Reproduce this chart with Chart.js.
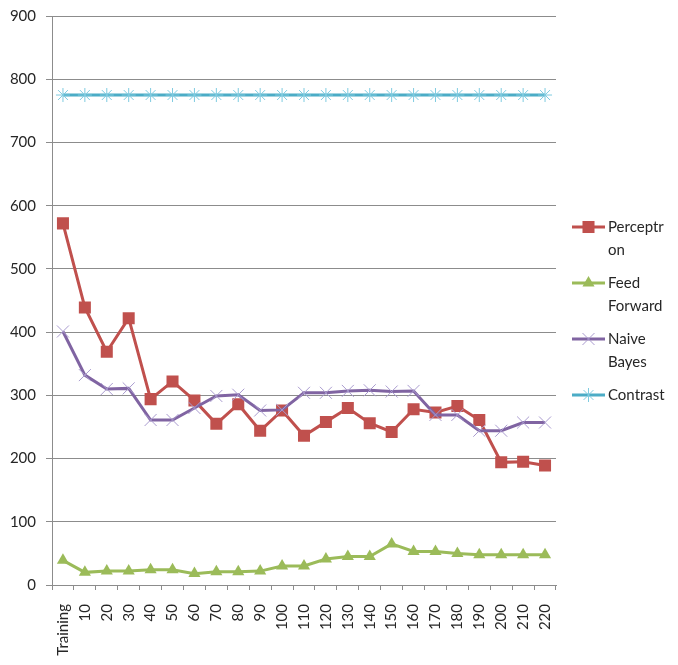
<!DOCTYPE html>
<html>
<head>
<meta charset="utf-8">
<script src="https://cdn.jsdelivr.net/npm/chart.js@4/dist/chart.umd.min.js"></script>
<style>
  html, body { margin: 0; padding: 0; background: #ffffff; }
  #wrap { width: 678px; height: 665px; }
</style>
</head>
<body>
<div id="wrap"><canvas id="c" width="678" height="665"></canvas></div>
<script>
// Categories along the x axis
const categories = ['Training', '10', '20', '30', '40', '50', '60', '70', '80', '90', '100',
  '110', '120', '130', '140', '150', '160', '170', '180', '190', '200', '210', '220'];

// Series values
const perceptron = [572, 439, 369, 422, 294, 322, 292, 255, 286, 244, 276, 236, 258, 280, 256, 242, 278, 273, 283, 261, 194, 195, 189];
const feedForward = [39, 20, 22, 22, 24, 24, 18, 21, 21, 22, 30, 30, 41, 45, 45, 65, 53, 53, 50, 48, 48, 48, 48];
const naiveBayes = [401, 332, 310, 311, 261, 261, 280, 299, 301, 276, 277, 304, 304, 307, 308, 306, 307, 269, 269, 244, 244, 257, 257];
const contrast = [775, 775, 775, 775, 775, 775, 775, 775, 775, 775, 775, 775, 775, 775, 775, 775, 775, 775, 775, 775, 775, 775, 775];

// Value axis range
const yMin = 0, yMax = 900, yStep = 100;

const FONT = 'Lato, "Liberation Sans", sans-serif';
const TEXT = '#262626';
const GRID = '#8c8c8c';

// Marker glyph used in the side legend
function drawMarker(ctx, style, r, x, y) {
  ctx.save();
  if (style === 'rect') {
    const s = Math.SQRT1_2 * r;
    ctx.fillRect(x - s, y - s, 2 * s, 2 * s);
  } else if (style === 'triangle') {
    ctx.beginPath();
    ctx.moveTo(x, y - r);
    ctx.lineTo(x + r * Math.sin(2 * Math.PI / 3), y - r * Math.cos(2 * Math.PI / 3));
    ctx.lineTo(x + r * Math.sin(4 * Math.PI / 3), y - r * Math.cos(4 * Math.PI / 3));
    ctx.closePath();
    ctx.fill();
  } else {
    const o = Math.SQRT1_2 * r;
    ctx.beginPath();
    ctx.moveTo(x - o, y - o); ctx.lineTo(x + o, y + o);
    ctx.moveTo(x - o, y + o); ctx.lineTo(x + o, y - o);
    if (style === 'star') { ctx.moveTo(x, y - r); ctx.lineTo(x, y + r); }
    ctx.stroke();
  }
  ctx.restore();
}

// Legend drawn in the right-hand margin, wrapping long names
const sideLegend = {
  id: 'sideLegend',
  afterDraw(chart) {
    const ctx = chart.ctx;
    const rowsY = [227, 283, 339, 395];
    const lineX0 = 572, lineX1 = 605, textX = 608, maxW = 60, lh = 23;
    ctx.save();
    ctx.font = '15px ' + FONT;
    ctx.textBaseline = 'middle';
    ctx.textAlign = 'left';
    chart.data.datasets.forEach((ds, i) => {
      const y = rowsY[i];
      ctx.strokeStyle = ds.borderColor;
      ctx.lineWidth = ds.borderWidth;
      ctx.beginPath();
      ctx.moveTo(lineX0, y);
      ctx.lineTo(lineX1, y);
      ctx.stroke();
      ctx.fillStyle = ds.pointBackgroundColor;
      ctx.strokeStyle = ds.pointBorderColor;
      ctx.lineWidth = ds.pointBorderWidth;
      drawMarker(ctx, ds.pointStyle, ds.pointRadius, (lineX0 + lineX1) / 2, y);
      // wrap the name
      const lines = [];
      let cur = '';
      ds.label.split(' ').forEach(word => {
        const trial = cur ? cur + ' ' + word : word;
        if (ctx.measureText(trial).width <= maxW) { cur = trial; return; }
        if (cur) { lines.push(cur); cur = ''; }
        let piece = '';
        for (const ch of word) {
          if (ctx.measureText(piece + ch).width > maxW && piece) { lines.push(piece); piece = ch; }
          else piece += ch;
        }
        cur = piece;
      });
      if (cur) lines.push(cur);
      ctx.fillStyle = TEXT;
      lines.forEach((t, k) => ctx.fillText(t, textX, y + k * lh));
    });
    ctx.restore();
  }
};

new Chart(document.getElementById('c'), {
  type: 'line',
  data: {
    labels: categories,
    datasets: [
      {
        label: 'Perceptron', data: perceptron, order: 4,
        borderColor: '#C0504D', borderWidth: 3,
        pointStyle: 'rect', pointRadius: 8.5, pointBorderWidth: 0,
        pointBackgroundColor: '#C0504D', pointBorderColor: '#C0504D'
      },
      {
        label: 'Feed Forward', data: feedForward, order: 3,
        borderColor: '#9BBB59', borderWidth: 3,
        pointStyle: 'triangle', pointRadius: 7, pointBorderWidth: 0,
        pointBackgroundColor: '#9BBB59', pointBorderColor: '#9BBB59'
      },
      {
        label: 'Naive Bayes', data: naiveBayes, order: 2,
        borderColor: '#8064A2', borderWidth: 3,
        pointStyle: 'crossRot', pointRadius: 8.5, pointBorderWidth: 1,
        pointBackgroundColor: '#A99BCF', pointBorderColor: '#A99BCF'
      },
      {
        label: 'Contrast', data: contrast, order: 1,
        borderColor: '#4BACC6', borderWidth: 3,
        pointStyle: 'star', pointRadius: 7, pointBorderWidth: 1,
        pointBackgroundColor: '#7FCBE0', pointBorderColor: '#7FCBE0'
      }
    ]
  },
  options: {
    responsive: false,
    animation: false,
    events: [],
    layout: { padding: { left: 0, right: 122, top: 16, bottom: 0 } },
    plugins: { legend: { display: false }, tooltip: { enabled: false } },
    elements: { line: { tension: 0 } },
    scales: {
      x: {
        offset: true,
        grid: {
          offset: true, drawOnChartArea: false, drawTicks: true,
          tickLength: 5, color: GRID
        },
        border: { color: GRID, width: 1 },
        ticks: {
          autoSkip: false, maxRotation: 90, minRotation: 90,
          color: TEXT, font: { family: FONT, size: 15 }, padding: 14
        },
        afterFit(scale) { scale.height = 80; }
      },
      y: {
        min: yMin, max: yMax,
        grid: { color: GRID, tickLength: 6, drawTicks: true },
        border: { color: GRID, width: 1 },
        ticks: {
          stepSize: yStep, color: TEXT,
          font: { family: FONT, size: 15 }, padding: 10
        },
        afterFit(scale) {
          scale.width = 52;
          scale.paddingTop = 9;
          scale.paddingBottom = 9;
        }
      }
    }
  },
  plugins: [sideLegend]
});
</script>
</body>
</html>
